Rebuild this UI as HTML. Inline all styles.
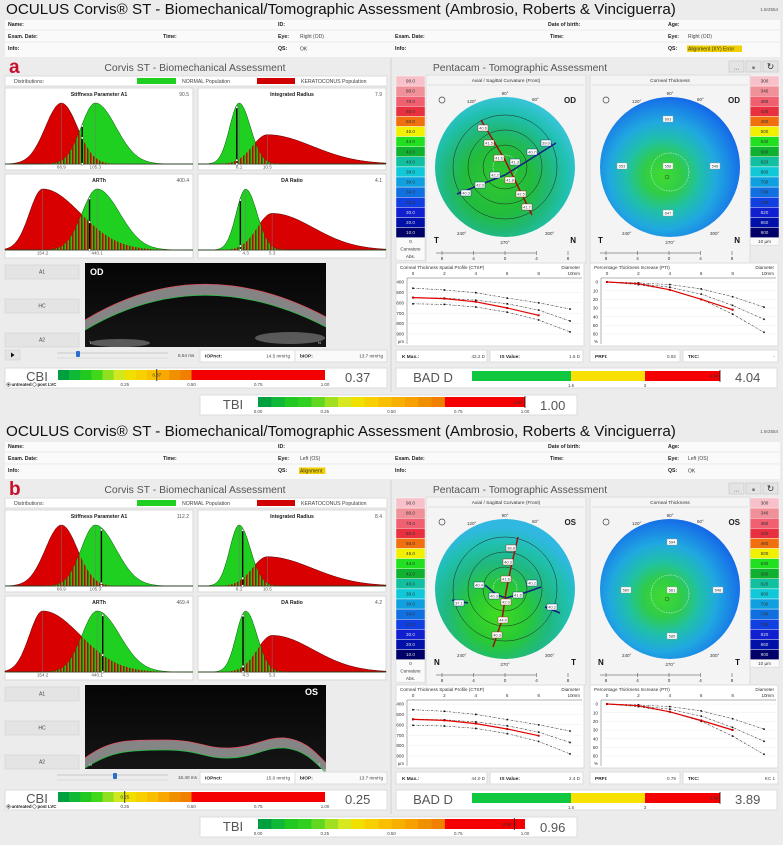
<!DOCTYPE html>
<html><head><meta charset="utf-8">
<style>
html,body{margin:0;padding:0;background:#ececec;}
svg{display:block;font-family:"Liberation Sans",sans-serif;}
</style></head>
<body>
<svg id="chart" width="783" height="845" viewBox="0 0 783 845" xmlns="http://www.w3.org/2000/svg">
<defs>
<pattern id="stripes" width="3" height="4" patternUnits="userSpaceOnUse"><rect width="3" height="4" fill="#18c818"/><rect width="1.5" height="4" fill="#c80000"/></pattern>
<radialGradient id="curvA" cx="0.45" cy="0.6" r="0.6"><stop offset="0" stop-color="#30c830"/><stop offset="0.4" stop-color="#22bc3c"/><stop offset="0.62" stop-color="#20b878"/><stop offset="0.82" stop-color="#20c0b0"/><stop offset="1" stop-color="#38c4d8"/></radialGradient>
<radialGradient id="curvB" cx="0.45" cy="0.68" r="0.62"><stop offset="0" stop-color="#40dc20"/><stop offset="0.35" stop-color="#28c838"/><stop offset="0.6" stop-color="#20b880"/><stop offset="0.82" stop-color="#20c0b0"/><stop offset="1" stop-color="#30b8e0"/></radialGradient>
<radialGradient id="thick" cx="0.45" cy="0.56" r="0.62"><stop offset="0" stop-color="#40dc30"/><stop offset="0.22" stop-color="#30cc48"/><stop offset="0.42" stop-color="#20c0a8"/><stop offset="0.62" stop-color="#20a8e0"/><stop offset="0.85" stop-color="#1878e8"/><stop offset="1" stop-color="#1058e0"/></radialGradient>
<linearGradient id="scanBg" x1="0" y1="0" x2="0" y2="1"><stop offset="0" stop-color="#050505"/><stop offset="1" stop-color="#151515"/></linearGradient>
</defs>
</svg>
<script>
// ---------- data ----------
const distTitles=['Stiffness Parameter A1','Integrated Radius','ARTh','DA Ratio'];
const normalMean=[105.3,8.1,440.1,4.3];
const kcMean=[66.9,10.5,154.2,5.3];
const patientA=[90.5,7.9,400.4,4.1];
const patientB=[112.2,8.4,469.4,4.2];
const distDomain=[[3,216],[4.6,20.6],[-43,943],[2.5,9.6]];
const curvScale=['90.0','80.0','70.0','60.0','50.0','46.0','44.0','42.0','40.0','38.0','36.0','34.0','32.0','30.0','20.0','10.0'];
const thickScale=['300','340','380','420','460','500','540','580','620','660','700','740','780','820','860','900'];
const scaleColors=['#f8c0c8','#f09098','#f06070','#e83040','#f07010','#f0f000','#20e020','#10b030','#10c0a0','#10c8d8','#10a0e0','#1070e0','#1040e0','#1020d0','#0010a8','#000068'];
const ctspX=[0,2,4,6,8,10];
const ctspUpperA=[460,477,503,555,600,660];
const ctspMidA=[550,555,575,610,670,775];
const ctspLowerA=[610,615,640,690,765,880];
const ctspRedX=[0,2,4,6,8];
const ctspRedA=[550,560,590,650,720];
const ctspUpperB=[455,470,500,550,600,660];
const ctspMidB=[545,552,572,610,670,770];
const ctspLowerB=[605,612,635,685,760,880];
const ctspRedB=[548,558,588,640,705];
const ptiUpper=[0,1,3,8,17,29];
const ptiMid=[0,2,6,14,27,43];
const ptiLower=[0,3,9,20,37,58];
const ptiRedA=[0,2,9,20,32];
const ptiRedB=[0,2,9,19,30];
const cbiTicks=['0.25','0.50','0.75','1.00'];
const tbiTicks=['0.00','0.25','0.50','0.75','1.00'];
const cbiValues=[0.37,0.25];
const tbiValues=[1.00,0.96];
const badDValues=[4.04,3.89];
const badDStops=[0,1.6,3];
const cbiCols=['#00a040','#10b838','#20c820','#40d818','#90e020','#d0e820','#f0e000','#f8d000','#f8c000','#f8a800','#f09000','#f08000'];
const tbiCols=['#00a040','#10b838','#20c820','#30d020','#60d820','#a0e020','#d8e820','#f0e000','#f8d000','#f8c000','#f8b000','#f8a000','#f09000','#f08000'];

// ---------- helpers ----------
const NS='http://www.w3.org/2000/svg';
const svg=document.getElementById('chart');
function mk(p,tag,a,name){
  const e=document.createElementNS(NS,tag);
  for(const k in a)e.setAttribute(k,a[k]);
  
  
  p.appendChild(e);return e;
}
function T(p,x,y,s,sz,o,name){
  const e=mk(p,'text',Object.assign({x:x,y:y,'font-size':sz,fill:'#222'},o||{}),name||'label');
  e.textContent=s;return e;
}
function poly(pts){return pts.map(p=>p[0].toFixed(1)+','+p[1].toFixed(1)).join(' ');}

function skew(v,m,sl,sr,h){const s=v<m?sl:sr;return h*Math.exp(-0.5*Math.pow((v-m)/s,2));}
const nShape=[[.075,.11],[.05,.06],[.08,.12],[.05,.06]];
const kShape=[[.085,.085],[.08,.24],[.07,.2],[.08,.22]];
const kHeight=[1,.48,1,.6];

function distChart(g,i,x0,y0,w,h,patient){
  const c=mk(g,'g',{},'distribution-chart-'+i);
  mk(c,'rect',{x:x0,y:y0,width:w,height:h,fill:'#fff',stroke:'#d8d8d8'},'chart-frame');
  T(c,x0+w/2,y0+8,distTitles[i],5.2,{'text-anchor':'middle','font-weight':'bold'},'chart-title');
  T(c,x0+w-4,y0+8,String(patient[i]),5,{'text-anchor':'end',fill:'#555'},'patient-value');
  const d=distDomain[i], span=d[1]-d[0];
  const base=y0+76, amp=61;
  const xs=v=>x0+(v-d[0])/span*w;
  const N=[],K=[],M=[];
  for(let k=0;k<=160;k++){
    const v=d[0]+span*k/160;
    const n=skew(v,normalMean[i],nShape[i][0]*span,nShape[i][1]*span,1);
    const kk=skew(v,kcMean[i],kShape[i][0]*span,kShape[i][1]*span,kHeight[i]);
    N.push([xs(v),base-amp*n]);K.push([xs(v),base-amp*kk]);M.push([xs(v),base-amp*Math.min(n,kk)]);
  }
  const close=a=>[[x0,base]].concat(a,[[x0+w,base]]);
  mk(c,'polygon',{points:poly(close(K)),fill:'#d80000',stroke:'#500','stroke-width':0.5},'keratoconus-curve');
  mk(c,'polygon',{points:poly(close(N)),fill:'#20d020',stroke:'#050','stroke-width':0.5},'normal-curve');
  mk(c,'polygon',{points:poly(close(M)),fill:'url(#stripes)'},'overlap-area');
  mk(c,'line',{x1:x0+2,y1:base,x2:x0+w-2,y2:base,stroke:'#333','stroke-width':0.6},'x-axis');
  mk(c,'line',{x1:xs(normalMean[i]),y1:base-amp,x2:xs(normalMean[i]),y2:base,stroke:'#777','stroke-width':0.5},'normal-mean-line');
  mk(c,'line',{x1:xs(kcMean[i]),y1:base-amp*kHeight[i],x2:xs(kcMean[i]),y2:base,stroke:'#777','stroke-width':0.5},'kc-mean-line');
  T(c,xs(normalMean[i]),y0+80.5,String(normalMean[i]),4.6,{'text-anchor':'middle',fill:'#555'},'normal-mean-label');
  T(c,xs(kcMean[i]),y0+80.5,String(kcMean[i]),4.6,{'text-anchor':'middle',fill:'#555'},'kc-mean-label');
  const px=xs(patient[i]);
  const pn=skew(patient[i],normalMean[i],nShape[i][0]*span,nShape[i][1]*span,1);
  const pk=skew(patient[i],kcMean[i],kShape[i][0]*span,kShape[i][1]*span,kHeight[i]);
  const top=base-amp*Math.max(pn,pk)*0.96;
  mk(c,'line',{x1:px,y1:top,x2:px,y2:base,stroke:'#000','stroke-width':1.4},'patient-line');
  [top,base-amp*Math.min(pn,pk),base].forEach(yy=>mk(c,'circle',{cx:px,cy:yy,r:1.2,fill:'#fff',stroke:'#333','stroke-width':0.4},'patient-marker'));
}

function scaleBar(g,x,y,labels,footer,name){
  const s=mk(g,'g',{},name);
  labels.forEach((l,i)=>{
    mk(s,'rect',{x:x,y:y+i*10.1,width:29,height:10.1,fill:scaleColors[i],stroke:'#fff','stroke-width':0.4},'scale-cell');
    T(s,x+14.5,y+i*10.1+6.6,l,4.6,{'text-anchor':'middle',fill:i>=13?'#ddd':'#333'},'scale-label');
  });
  const yb=y+16*10.1;
  mk(s,'rect',{x:x,y:yb,width:29,height:footer.length*7.5,fill:'#fafafa',stroke:'#ccc','stroke-width':0.4},'scale-footer');
  footer.forEach((f,i)=>T(s,x+14.5,yb+5.5+i*7.5,f,4.6,{'text-anchor':'middle',fill:'#333'},'scale-footer-label'));
}

function mapPanel(g,x0,title,cx,cy,fill,eye,left,right,name){
  const m=mk(g,'g',{},name);
  mk(m,'rect',{x:x0,y:75,width:160,height:188,fill:'#f4f4f4',stroke:'#ddd'},'map-frame');
  T(m,x0+80,82,title,4.8,{'text-anchor':'middle',fill:'#333'},'map-title');
  mk(m,'line',{x1:x0+2,y1:85,x2:x0+158,y2:85,stroke:'#ccc','stroke-width':0.5},'map-title-rule');
  mk(m,'circle',{cx:cx,cy:cy,r:70,fill:fill},'map-disc');
  T(m,cx,cy-72,'90°',4.5,{'text-anchor':'middle',fill:'#333'},'angle-label');
  T(m,cx,cy+77,'270°',4.5,{'text-anchor':'middle',fill:'#333'},'angle-label');
  T(m,cx+27,cy-66,'60°',4.5,{fill:'#333'},'angle-label');
  T(m,cx-38,cy-64,'120°',4.5,{fill:'#333'},'angle-label');
  T(m,cx+40,cy+68,'300°',4.5,{fill:'#333'},'angle-label');
  T(m,cx-48,cy+68,'240°',4.5,{fill:'#333'},'angle-label');
  T(m,x0+150,cy-64,eye,8,{'text-anchor':'end','font-weight':'bold',fill:'#222'},'eye-label');
  T(m,x0+8,cy+76,left,8,{'font-weight':'bold',fill:'#111'},'side-label');
  T(m,x0+150,cy+76,right,8,{'text-anchor':'end','font-weight':'bold',fill:'#111'},'side-label');
  mk(m,'circle',{cx:x0+16,cy:cy-67,r:3,fill:'none',stroke:'#444','stroke-width':0.7},'zoom-icon');
  mk(m,'line',{x1:x0+10,y1:253,x2:x0+110,y2:253,stroke:'#444','stroke-width':0.5},'mm-axis');
  ['8','4','0','4','8'].forEach((l,i)=>{
    const xx=x0+16+i*31.5;
    mk(m,'line',{x1:xx,y1:251,x2:xx,y2:255,stroke:'#444','stroke-width':0.5},'mm-tick');
    T(m,xx,260,l,4.6,{'text-anchor':'middle',fill:'#333'},'mm-label');
  });
  return m;
}

function tag(g,x,y,s,col){
  mk(g,'rect',{x:x-5,y:y-3,width:10,height:6,fill:'#fff',stroke:col,'stroke-width':0.4},'map-value-box');
  T(g,x,y+1.7,s,4,{'text-anchor':'middle',fill:'#333'},'map-value');
}

function profileChart(g,x0,title,yTicks,yUnit,yv0,yv1,series,redX,redV,name){
  const c=mk(g,'g',{},name);
  mk(c,'rect',{x:x0,y:263,width:188,height:83,fill:'#fff',stroke:'#ddd'},'profile-frame');
  T(c,x0+4,269,title,4.6,{fill:'#333'},'profile-title');
  T(c,x0+184,269,'Diameter',4.6,{'text-anchor':'end',fill:'#333'},'profile-x-title');
  const xs=d=>x0+17+d/10*157;
  const ys=v=>282+(v-yv0)/(yv1-yv0)*52;
  ['0','2','4','6','8','10'].forEach((l,i)=>T(c,xs(i*2),275,l,4.6,{'text-anchor':'middle',fill:'#333'},'profile-x-label'));
  T(c,x0+184,275,'mm',4.6,{'text-anchor':'end',fill:'#333'},'profile-x-unit');
  mk(c,'line',{x1:x0+11,y1:278,x2:x0+186,y2:278,stroke:'#666','stroke-width':0.5},'profile-x-axis');
  mk(c,'line',{x1:x0+11,y1:278,x2:x0+11,y2:344,stroke:'#666','stroke-width':0.5},'profile-y-axis');
  yTicks.forEach(t=>{
    T(c,x0+8,ys(t)+1.6,String(t),4.6,{'text-anchor':'end',fill:'#333'},'profile-y-label');
    mk(c,'line',{x1:x0+11,y1:ys(t),x2:x0+186,y2:ys(t),stroke:'#eee','stroke-width':0.5},'profile-grid');
  });
  T(c,x0+8,343,yUnit,4.4,{'text-anchor':'end',fill:'#333'},'profile-y-unit');
  series.forEach(s=>{
    mk(c,'polyline',{points:poly(ctspX.map((d,i)=>[xs(d),ys(s[i])])),fill:'none',stroke:'#333','stroke-width':0.6,'stroke-dasharray':'2,1,0.5,1'},'reference-curve');
    ctspX.forEach((d,i)=>mk(c,'rect',{x:xs(d)-0.8,y:ys(s[i])-0.8,width:1.6,height:1.6,fill:'#111'},'reference-point'));
  });
  mk(c,'polyline',{points:poly(redX.map((d,i)=>[xs(d),ys(redV[i])])),fill:'none',stroke:'#e00000','stroke-width':1.2},'patient-curve');
  redX.forEach((d,i)=>mk(c,'rect',{x:xs(d)-1,y:ys(redV[i])-1,width:2,height:2,fill:'#c00'},'patient-point'));
}

function segBar(g,x0,x1,y,h,cols,redFrom,name){
  const b=mk(g,'g',{},name);
  const w=x1-x0, rx=x0+redFrom*w, sw=(rx-x0)/cols.length;
  cols.forEach((c,i)=>mk(b,'rect',{x:x0+i*sw,y:y,width:sw+0.3,height:h,fill:c},'bar-segment'));
  mk(b,'rect',{x:rx,y:y,width:x1-rx,height:h,fill:'#f40000'},'bar-red-zone');
  return b;
}

// ---------- panel ----------
function panel(P){
  const g=mk(svg,'g',{transform:'translate(0,'+P.dy+')'},'assessment-panel-'+P.letter);
  T(g,6,14,'OCULUS Corvis® ST - Biomechanical/Tomographic Assessment (Ambrosio, Roberts & Vinciguerra)',15.2,{fill:'#111'},'report-title');
  T(g,778,11,'1.6r2554',4.5,{'text-anchor':'end',fill:'#555'},'version-label');
  mk(g,'rect',{x:5,y:20,width:775,height:37,fill:'#fafafa'},'info-table');
  const info=[
    [8,26,'Name:'],[278,26,'ID:'],[548,26,'Date of birth:'],[668,26,'Age:'],
    [8,38,'Exam. Date:'],[163,38,'Time:'],[278,38,'Eye:'],[395,38,'Exam. Date:'],[550,38,'Time:'],[668,38,'Eye:'],
    [8,50,'Info:'],[278,50,'QS:'],[395,50,'Info:'],[668,50,'QS:']];
  info.forEach(r=>T(g,r[0],r[1],r[2],5.2,{'font-weight':'bold',fill:'#222'},'info-label'));
  [30,42].forEach(yy=>mk(g,'line',{x1:5,y1:yy,x2:780,y2:yy,stroke:'#ddd','stroke-width':0.5},'info-rule'));
  T(g,300,38,P.eye,5,{fill:'#444'},'eye-value');
  T(g,688,38,P.eye,5,{fill:'#444'},'eye-value-right');
  if(P.qsLwarn)mk(g,'rect',{x:299,y:45.5,width:P.qsL.length*2.6+3,height:6.5,fill:'#f0d000'},'qs-warning-bg');
  T(g,300,50.5,P.qsL,5,{fill:'#333'},'qs-value');
  if(P.qsRwarn)mk(g,'rect',{x:687,y:45.5,width:P.qsR.length*2.6+3,height:6.5,fill:'#f0d000'},'qs-warning-bg');
  T(g,688,50.5,P.qsR,5,{fill:'#333'},'qs-value-right');
  mk(g,'line',{x1:391,y1:58,x2:391,y2:392,stroke:'#ccc','stroke-width':0.8},'panel-divider');
  T(g,9,73,P.letter,19,{'font-weight':'bold',fill:'#c8102e'},'panel-letter');
  T(g,195,71,'Corvis ST - Biomechanical Assessment',10.4,{'text-anchor':'middle',fill:'#555'},'corvis-header');
  T(g,520,71,'Pentacam - Tomographic Assessment',10.4,{'text-anchor':'middle',fill:'#555'},'pentacam-header');
  ['…','⏸','↻'].forEach((s,i)=>{
    const b=mk(g,'rect',{x:729+i*17,y:61,width:15,height:11,fill:'#e4e4e4',stroke:'#bbb','stroke-width':0.5},'toolbar-button');
    
    T(g,736.5+i*17,69.5,s,i==2?9:6,{'text-anchor':'middle',fill:'#333'},'toolbar-icon');
  });
  mk(g,'rect',{x:5,y:76,width:382,height:10,fill:'#fff',stroke:'#ddd'},'distributions-bar');
  T(g,14,83,'Distributions:',5.2,{fill:'#444'},'distributions-label');
  mk(g,'rect',{x:137,y:78,width:39,height:6,fill:'#20d020'},'normal-swatch');
  T(g,182,83,'NORMAL Population',5.2,{fill:'#444'},'normal-legend');
  mk(g,'rect',{x:257,y:78,width:38,height:6,fill:'#d00000'},'keratoconus-swatch');
  T(g,301,83,'KERATOCONUS Population',5.2,{fill:'#444'},'keratoconus-legend');
  distChart(g,0,5,88,188,82,P.patient);
  distChart(g,1,198,88,188,82,P.patient);
  distChart(g,2,5,174,188,84,P.patient);
  distChart(g,3,198,174,188,84,P.patient);
  ['A1','HC','A2'].forEach((s,i)=>{
    const b=mk(g,'rect',{x:5,y:265+i*34,width:74,height:14,fill:'#e4e4e4',stroke:'#ccc','stroke-width':0.5},'button-'+s.toLowerCase());
    
    T(g,42,273.5+i*34,s,5,{'text-anchor':'middle',fill:'#444'},'button-label');
  });
  mk(g,'rect',{x:85,y:263,width:241,height:84,fill:'url(#scanBg)'},'scheimpflug-image');
  const s=mk(g,'g',{},'cornea-band');
  mk(s,'path',{d:P.scanTop+' '+P.scanBottomRev+' Z',fill:'#9a9a9a',opacity:0.85},'cornea');
  mk(s,'path',{d:P.scanTop,fill:'none',stroke:'#e05060','stroke-width':0.8},'anterior-edge');
  mk(s,'path',{d:P.scanBottom,fill:'none',stroke:'#20c040','stroke-width':0.8},'posterior-edge');
  P.blobs.forEach(b=>mk(g,'ellipse',{cx:b[0],cy:b[1],rx:b[2],ry:b[3],fill:'#777',opacity:0.7},'lens-reflection'));
  T(g,P.scanEyeX,P.scanEyeY,P.scanEye,9,{fill:'#fff','font-weight':'bold'},'scan-eye-label');
  T(g,89,344,P.scanL,4,{fill:'#ddd'},'scan-side');
  T(g,318,344,P.scanR,4,{fill:'#ddd'},'scan-side');
  if(P.play){const pb=mk(g,'rect',{x:5,y:350,width:15,height:10,fill:'#e4e4e4',stroke:'#ccc','stroke-width':0.5},'play-button');
    mk(g,'polygon',{points:'11,352.5 11,357.5 14.5,355',fill:'#111'},'play-icon');}
  mk(g,'line',{x1:57,y1:353,x2:168,y2:353,stroke:'#bbb','stroke-width':0.8},'time-slider-track');
  mk(g,'line',{x1:57,y1:358,x2:168,y2:358,stroke:'#ccc','stroke-width':0.6},'time-slider-track2');
  const kn=mk(g,'rect',{x:P.knobX-2,y:351,width:4,height:6,rx:1,fill:'#2a6fd0'},'time-slider-knob');
  T(g,178,357,P.ms,4.6,{fill:'#444'},'time-value');
  mk(g,'rect',{x:200,y:350,width:95,height:12,fill:'#fff',stroke:'#ddd'},'iop-box');
  mk(g,'rect',{x:295,y:350,width:92,height:12,fill:'#fafafa',stroke:'#ddd'},'biop-box');
  T(g,205,357.5,'IOPnct:',4.8,{'font-weight':'bold'},'iop-label');
  T(g,290,357.5,P.iop,4.6,{'text-anchor':'end',fill:'#444'},'iop-value');
  T(g,300,357.5,'bIOP:',4.8,{'font-weight':'bold'},'biop-label');
  T(g,383,357.5,'13.7 mmHg',4.6,{'text-anchor':'end',fill:'#444'},'biop-value');
  mk(g,'rect',{x:5,y:368,width:382,height:20,fill:'#fff',stroke:'#ddd'},'cbi-box');
  T(g,37,381,'CBI',13,{'text-anchor':'middle',fill:'#555'},'cbi-title');
  segBar(g,58,325,370,10,cbiCols,0.5,'cbi-bar');
  cbiTicks.forEach((t,i)=>T(g,58+(i+1)*0.25*267,386,t,4.4,{'text-anchor':'middle',fill:'#444'},'cbi-tick'));
  const cv=cbiValues[P.idx], cx=58+cv*267;
  mk(g,'line',{x1:cx,y1:369,x2:cx,y2:381,stroke:'#111','stroke-width':0.8},'cbi-marker');
  T(g,cx,376.5,cv.toFixed(2),4.4,{'text-anchor':'middle',fill:'#333'},'cbi-marker-label');
  T(g,345,382,cv.toFixed(2),13,{fill:'#555'},'cbi-value');
  mk(g,'circle',{cx:8.5,cy:384.5,r:1.8,fill:'#fff',stroke:'#333','stroke-width':0.5},'untreated-radio');
  mk(g,'circle',{cx:8.5,cy:384.5,r:0.9,fill:'#333'},'untreated-radio-dot');
  T(g,11.5,386,'untreated',4.4,{'font-weight':'bold'},'untreated-label');
  mk(g,'circle',{cx:34.5,cy:384.5,r:1.8,fill:'#fff',stroke:'#333','stroke-width':0.5},'post-lvc-radio');
  T(g,37.5,386,'post LVC',4.4,{'font-weight':'bold'},'post-lvc-label');
  mk(g,'rect',{x:200,y:395,width:377,height:20,fill:'#fff',stroke:'#ddd'},'tbi-box');
  T(g,233,409,'TBI',13,{'text-anchor':'middle',fill:'#555'},'tbi-title');
  segBar(g,258,525,397,10,tbiCols,0.70,'tbi-bar');
  tbiTicks.forEach((t,i)=>T(g,258+i*0.25*267,413,t,4.4,{'text-anchor':'middle',fill:'#444'},'tbi-tick'));
  const tv=tbiValues[P.idx], tx=258+tv*267;
  mk(g,'line',{x1:tx,y1:396,x2:tx,y2:408,stroke:'#111','stroke-width':0.8},'tbi-marker');
  T(g,tx-3,404,tv.toFixed(2),4.4,{'text-anchor':'end',fill:'#333'},'tbi-marker-label');
  T(g,540,410,tv.toFixed(2),13,{fill:'#555'},'tbi-value');
  scaleBar(g,396,76,curvScale,['0','Curvature','Abs.'],'curvature-scale');
  scaleBar(g,750,76,thickScale,['10 µm'],'thickness-scale');
  const cm=mapPanel(g,426,'Axial / Sagittal Curvature (Front)',505,167,P.curvFill,P.eyeShort,P.left,P.right,'curvature-map');
  [12].forEach(r=>mk(cm,'circle',{cx:505,cy:167,r:r,fill:'none',stroke:'#fff','stroke-width':0.5,'stroke-dasharray':'1.5,1'},'dashed-ring'));
  [22,37,52].forEach(r=>mk(cm,'circle',{cx:505,cy:167,r:r,fill:'none',stroke:'#222','stroke-width':0.5},'distance-ring'));
  P.blue.forEach(l=>mk(cm,'polyline',{points:l,fill:'none',stroke:'#102080','stroke-width':1.5},'flat-meridian'));
  mk(cm,'polyline',{points:P.red,fill:'none',stroke:'#a01010','stroke-width':1.5},'steep-meridian');
  P.tags.forEach(t=>tag(cm,t[0],t[1],t[2],t[3]));
  const tm=mapPanel(g,590,'Corneal Thickness',670,167,'url(#thick)',P.eyeShort,P.left,P.right,'thickness-map');
  mk(tm,'circle',{cx:670,cy:172,r:19,fill:'none',stroke:'#fff','stroke-width':0.5,'stroke-dasharray':'1.5,1'},'dashed-ring');
  mk(tm,'circle',{cx:667,cy:177,r:2,fill:'none',stroke:'#222','stroke-width':0.4},'thinnest-point');
  P.ttags.forEach(t=>tag(tm,t[0],t[1],t[2],'#999'));
  profileChart(g,396,'Corneal Thickness Spatial Profile (CTSP)',[400,500,600,700,800,900],'µm',400,900,P.ctsp,ctspRedX,P.ctspRed,'ctsp-chart');
  profileChart(g,590,'Percentage Thickness Increase (PTI)',[0,10,20,30,40,50,60],'%',0,60,[ptiUpper,ptiMid,ptiLower],ctspRedX,P.ptiRed,'pti-chart');
  [[396,91],[490,93],[590,90],[683,95]].forEach(b=>mk(g,'rect',{x:b[0],y:350,width:b[1],height:12,fill:'#fff',stroke:'#ddd'},'index-box'));
  T(g,402,358,'K Max.:',4.8,{'font-weight':'bold'},'kmax-label');
  T(g,485,358,P.kmax,4.6,{'text-anchor':'end',fill:'#444'},'kmax-value');
  T(g,500,358,'IS Value:',4.8,{'font-weight':'bold'},'is-label');
  T(g,580,358,P.is,4.6,{'text-anchor':'end',fill:'#444'},'is-value');
  T(g,595,358,'PRFI:',4.8,{'font-weight':'bold'},'prfi-label');
  T(g,676,358,P.prfi,4.6,{'text-anchor':'end',fill:'#444'},'prfi-value');
  T(g,688,358,'TKC:',4.8,{'font-weight':'bold'},'tkc-label');
  T(g,775,358,P.tkc,4.6,{'text-anchor':'end',fill:'#444'},'tkc-value');
  mk(g,'rect',{x:396,y:368,width:381,height:20,fill:'#fff',stroke:'#ddd'},'badd-box');
  T(g,433,382,'BAD D',13,{'text-anchor':'middle',fill:'#555'},'badd-title');
  const bpx=[472,571,645,720];
  mk(g,'rect',{x:bpx[0],y:371,width:bpx[1]-bpx[0],height:10,fill:'#10c840'},'badd-green');
  mk(g,'rect',{x:bpx[1],y:371,width:bpx[2]-bpx[1],height:10,fill:'#f8e000'},'badd-yellow');
  mk(g,'rect',{x:bpx[2],y:371,width:bpx[3]-bpx[2],height:10,fill:'#f40000'},'badd-red');
  T(g,bpx[1],387,String(badDStops[1]),4.4,{'text-anchor':'middle',fill:'#444'},'badd-tick');
  T(g,bpx[2],387,String(badDStops[2]),4.4,{'text-anchor':'middle',fill:'#444'},'badd-tick');
  const bv=badDValues[P.idx];
  mk(g,'line',{x1:bpx[3],y1:370,x2:bpx[3],y2:382,stroke:'#111','stroke-width':0.8},'badd-marker');
  T(g,bpx[3]-2,377.5,bv.toFixed(2),4.2,{'text-anchor':'end',fill:'#333'},'badd-marker-label');
  T(g,735,382,bv.toFixed(2),13,{fill:'#555'},'badd-value');
}

panel({dy:0,idx:0,letter:'a',eye:'Right (OD)',eyeShort:'OD',qsL:'OK',qsLwarn:false,qsR:'Alignment (XY) Error',qsRwarn:true,
  patient:patientA,left:'T',right:'N',
  scanTop:'M85,320 Q200,250 326,317',scanBottom:'M85,330 Q200,262 326,327',scanBottomRev:'L326,327 Q200,262 85,330',
  blobs:[[120,343,30,4],[290,338,35,6]],scanEye:'OD',scanEyeX:90,scanEyeY:275,scanL:'T',scanR:'N',
  play:true,knobX:78,ms:'5.54 ms',iop:'14.5 mmHg',
  curvFill:'url(#curvA)',
  red:'481,120 505,160 532,215',blue:['457,194 505,175 556,143'],
  tags:[[483,128,'40.6','#a01010'],[489,143,'41.5','#a01010'],[499,158,'41.6','#a01010'],[510,180,'41.8','#a01010'],[521,194,'42.5','#a01010'],[527,207,'41.7','#a01010'],
        [466,193,'40.3','#102080'],[480,185,'42.0','#102080'],[495,175,'42.2','#102080'],[515,162,'41.3','#102080'],[532,152,'40.7','#102080'],[546,143,'39.0','#102080']],
  ttags:[[668,119,'603'],[622,166,'553'],[668,166,'558'],[715,166,'548'],[668,213,'647']],
  ctsp:[ctspUpperA,ctspMidA,ctspLowerA],ctspRed:ctspRedA,ptiRed:ptiRedA,
  kmax:'43.2 D',is:'1.6 D',prfi:'0.92',tkc:'-'});
panel({dy:422,idx:1,letter:'b',eye:'Left (OS)',eyeShort:'OS',qsL:'Alignment',qsLwarn:true,qsR:'OK',qsRwarn:false,
  patient:patientB,left:'N',right:'T',
  scanTop:'M85,336 C110,318 125,318 165,318 C200,318 205,327 230,326 C255,325 265,315 285,316 C305,318 315,330 326,341',
  scanBottom:'M85,346 C110,330 125,328 165,328 C200,328 205,337 230,336 C255,335 265,325 285,326 C305,328 315,340 326,351',
  scanBottomRev:'L326,351 C315,340 305,328 285,326 C265,325 255,335 230,336 C205,337 200,328 165,328 C125,328 110,330 85,346',
  blobs:[],scanEye:'OS',scanEyeX:305,scanEyeY:273,scanL:'N',scanR:'T',
  play:false,knobX:115,ms:'16.40 ms',iop:'15.0 mmHg',
  curvFill:'url(#curvB)',
  red:'518,115 511,145 506,170 502,198 493,225',blue:['452,178 468,181','485,163 497,173 506,176 527,170 541,165','545,185 560,191'],
  tags:[[511,126,'38.8','#a01010'],[508,140,'40.3','#a01010'],[506,157,'41.6','#a01010'],[506,180,'42.0','#a01010'],[503,198,'44.0','#a01010'],[497,213,'40.3','#a01010'],
        [459,181,'37.1','#102080'],[479,163,'40.4','#102080'],[494,174,'40.3','#102080'],[518,173,'41.6','#102080'],[532,161,'40.2','#102080'],[552,185,'40.2','#102080']],
  ttags:[[672,120,'594'],[626,168,'560'],[672,168,'561'],[718,168,'548'],[672,214,'585']],
  ctsp:[ctspUpperB,ctspMidB,ctspLowerB],ctspRed:ctspRedB,ptiRed:ptiRedB,
  kmax:'44.0 D',is:'2.4 D',prfi:'0.79',tkc:'KC 1'});
</script>
</body></html>
